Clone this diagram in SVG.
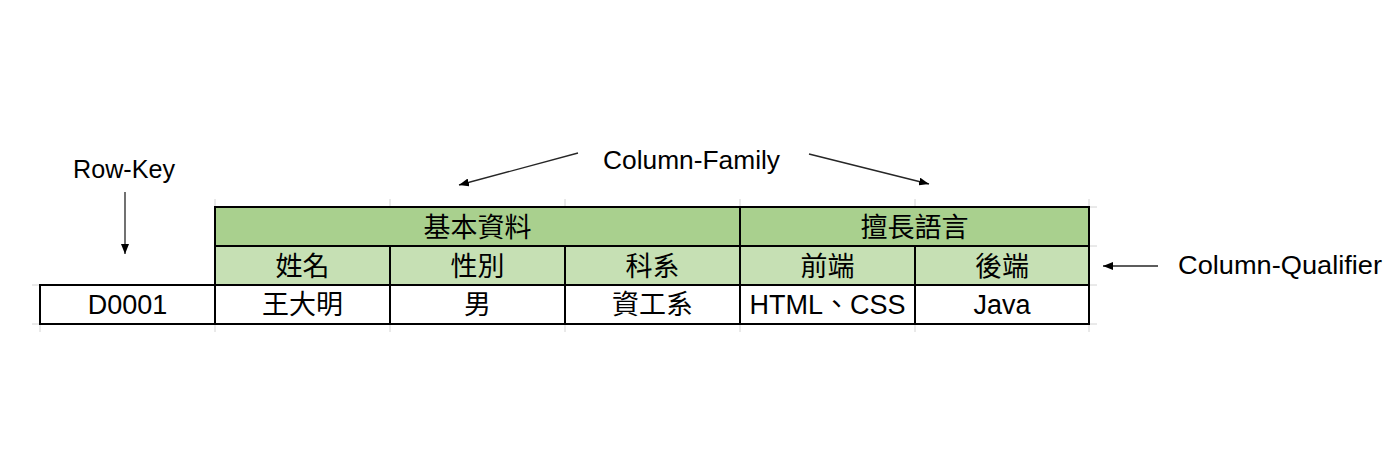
<svg xmlns="http://www.w3.org/2000/svg" width="1400" height="458" viewBox="0 0 1400 458">
<style>
.lbl{font-family:"Liberation Sans","Noto Sans",sans-serif;font-size:26px;fill:#000}
.cjk{font-family:"Noto Sans CJK TC","Noto Sans CJK SC",sans-serif;font-size:27px;fill:#000;text-anchor:middle}
.lat{font-family:"Liberation Sans","Noto Sans CJK TC",sans-serif;font-size:27px;fill:#000;text-anchor:middle}
.cell{stroke:#000;stroke-width:2}
.fam{fill:#a9d08e}
.qual{fill:#c6e0b4}
.data{fill:#fff}
.grid{stroke:#d4d4d4;stroke-width:1}
.conn{stroke:#262626;stroke-width:1.3;fill:none;marker-end:url(#ah)}
</style>
<defs>
<marker id="ah" viewBox="0 0 10 8" refX="10" refY="4" markerWidth="10" markerHeight="8" markerUnits="userSpaceOnUse" orient="auto">
<path d="M0,0 L10,4 L0,8 z" fill="#000"/>
</marker>
</defs>
<rect width="1400" height="458" fill="#fff"/>
<g id="gridlines">
<path class="grid" d="M215,199V207M390,199V207M565,199V207M740,199V207M915,199V207M1089,199V207M40,324V332M215,324V332M390,324V332M565,324V332M740,324V332M915,324V332M1089,324V332M1089,207H1097M1089,246H1097M1089,285H1097M1089,324H1097M32,285H40M32,324H40"/>
</g>
<g id="family-basic">
<rect class="cell fam" x="215" y="207" width="525" height="39"/>
<text class="cjk" x="477.5" y="236.5">基本資料</text>
</g>
<g id="family-lang">
<rect class="cell fam" x="740" y="207" width="349" height="39"/>
<text class="cjk" x="914.5" y="236.5">擅長語言</text>
</g>
<g id="q-name">
<rect class="cell qual" x="215" y="246" width="175" height="39"/>
<text class="cjk" x="302.5" y="276">姓名</text>
</g>
<g id="q-gender">
<rect class="cell qual" x="390" y="246" width="175" height="39"/>
<text class="cjk" x="477.5" y="276">性別</text>
</g>
<g id="q-dept">
<rect class="cell qual" x="565" y="246" width="175" height="39"/>
<text class="cjk" x="652.5" y="276">科系</text>
</g>
<g id="q-front">
<rect class="cell qual" x="740" y="246" width="175" height="39"/>
<text class="cjk" x="827.5" y="276">前端</text>
</g>
<g id="q-back">
<rect class="cell qual" x="915" y="246" width="174" height="39"/>
<text class="cjk" x="1002" y="276">後端</text>
</g>
<g id="rowkey-cell">
<rect class="cell data" x="40" y="285" width="175" height="39"/>
<text class="lat" x="127.5" y="314">D0001</text>
</g>
<g id="d-name">
<rect class="cell data" x="215" y="285" width="175" height="39"/>
<text class="cjk" x="302.5" y="314">王大明</text>
</g>
<g id="d-gender">
<rect class="cell data" x="390" y="285" width="175" height="39"/>
<text class="cjk" x="477.5" y="314">男</text>
</g>
<g id="d-dept">
<rect class="cell data" x="565" y="285" width="175" height="39"/>
<text class="cjk" x="652.5" y="314">資工系</text>
</g>
<g id="d-front">
<rect class="cell data" x="740" y="285" width="175" height="39"/>
<text class="lat" x="827.5" y="314">HTML、CSS</text>
</g>
<g id="d-back">
<rect class="cell data" x="915" y="285" width="174" height="39"/>
<text class="lat" x="1002" y="314">Java</text>
</g>
<g id="label-rowkey">
<text class="lbl" x="73" y="178" textLength="102" lengthAdjust="spacingAndGlyphs">Row-Key</text>
</g>
<g id="label-family">
<text class="lbl" x="603" y="169" textLength="177" lengthAdjust="spacingAndGlyphs">Column-Family</text>
</g>
<g id="label-qualifier">
<text class="lbl" x="1178" y="274" textLength="204" lengthAdjust="spacingAndGlyphs">Column-Qualifier</text>
</g>
<g id="connectors">
<line class="conn" x1="125" y1="192" x2="125" y2="254"/>
<line class="conn" x1="578" y1="153" x2="459" y2="185"/>
<line class="conn" x1="809" y1="154" x2="929" y2="184"/>
<line class="conn" x1="1158" y1="266" x2="1103" y2="266"/>
</g>
</svg>
